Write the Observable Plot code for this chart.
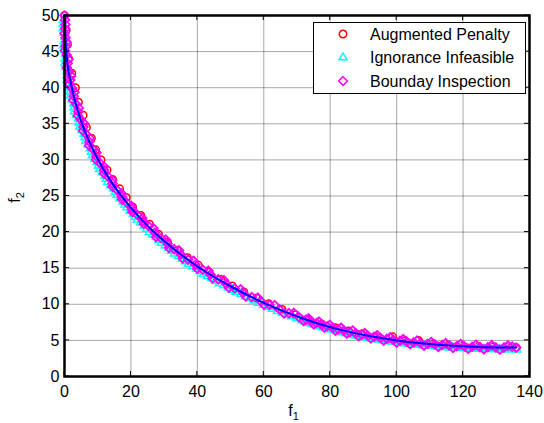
<!DOCTYPE html>
<html><head><meta charset="utf-8">
<script src="https://cdn.jsdelivr.net/npm/d3@7"></script>
<script src="https://cdn.jsdelivr.net/npm/@observablehq/plot@0.6"></script>
<style>html,body{margin:0;padding:0;background:#fff}#chart{width:544px;height:423px}</style>
</head><body><div id="chart"></div>
<script>
// Tick labels
const xTicks = [0, 20, 40, 60, 80, 100, 120, 140];
const yTicks = [0, 5, 10, 15, 20, 25, 30, 35, 40, 45, 50];

// Series names (legend)
const seriesNames = ["Augmented Penalty", "Ignorance Infeasible", "Bounday Inspection"];

// Augmented Penalty (red circles)
const apF1 = [0.0,0.5,0.9,1.3,2.2,3.3,4.2,5.6,6.6,8.1,
  9.4,11.0,12.8,14.5,16.6,18.6,20.5,23.0,25.6,28.3,
  31.0,34.0,37.0,40.3,43.5,47.0,50.5,54.0,57.8,61.5,
  65.5,69.5,73.5,77.5,81.5,85.5,89.5,93.5,98.8,102.5,
  106.6,111.0,115.5,120.0,124.5,129.0,133.0,136.0];
const apF2 = [50.0,48.0,46.0,44.0,42.0,40.0,38.0,36.2,34.5,33.0,
  31.4,30.0,28.6,27.3,26.0,24.8,23.5,22.3,21.1,19.7,
  18.6,17.5,16.45,15.4,14.45,13.45,12.55,11.72,10.85,10.07,
  9.3,8.55,7.86,7.26,6.75,6.3,5.89,5.54,5.5,4.95,
  5.0,4.5,4.35,4.22,4.15,4.08,4.05,4.0];

// Ignorance Infeasible (cyan triangles)
const iiF1 = [-0.3,-0.4,0.1,-0.3,0.3,0.1,0.8,0.8,1.6,1.8,
  2.8,3.0,4.2,4.6,5.9,6.4,7.8,8.4,9.9,10.6,
  12.2,13.0,14.8,15.8,17.6,18.8,20.7,21.9,24.0,25.5,
  27.6,29.2,31.4,33.1,35.5,37.3,39.8,41.8,44.3,46.6,
  49.3,51.7,54.5,57.0,59.9,62.6,65.6,68.4,71.5,73.1,
  74.6,76.2,77.8,79.5,81.2,82.9,84.6,86.4,88.2,90.0,
  91.9,93.8,95.7,97.7,99.7,101.7,103.8,105.9,108.0,110.2,
  112.3,114.5,116.8,119.1,121.4,123.7,126.1,128.5,130.9,133.4,
  136.2,
  -0.35,-0.15,-0.1,0.0,0.2,0.45,0.8,1.2,1.7,2.3,
  2.9,3.6,4.4,5.25,6.15,7.1,8.1,9.15,10.25,11.4,
  12.6,13.9,15.3,16.7,18.2,19.75,21.3,22.95,24.75,26.55,
  28.4,30.3,32.25,34.3,36.4,38.55,40.8,43.05,45.45,47.95,
  50.5,53.1,55.75,58.45,61.25,64.1,67.0,69.95,72.3,73.85,
  75.4,77.0,78.65,80.35,82.05,83.75,85.5,87.3,89.1,90.95,
  92.85,94.75,96.7,98.7,100.7,102.75,104.85,106.95,109.1,111.25,
  113.4,115.65,117.95,120.25,122.55,124.9,127.3,129.7,132.15,134.8];
const iiF2 = [49.40,48.20,47.00,45.80,44.60,43.40,42.30,41.10,40.00,38.90,
  37.80,36.70,35.70,34.60,33.60,32.60,31.60,30.60,29.70,28.70,
  27.80,26.90,26.00,25.10,24.20,23.40,22.50,21.70,20.90,20.00,
  19.30,18.50,17.80,17.00,16.30,15.60,14.90,14.20,13.60,12.90,
  12.30,11.70,11.10,10.50,9.90,9.35,8.75,8.30,7.75,7.50,
  7.25,7.05,6.80,6.60,6.40,6.20,6.00,5.82,5.64,5.47,
  5.31,5.16,5.02,4.88,4.75,4.63,4.52,4.41,4.31,4.22,
  4.14,4.07,4.00,3.94,3.89,3.85,3.81,3.79,3.77,3.76,
  3.70,
  48.80,47.60,46.40,45.20,44.00,42.85,41.70,40.55,39.45,38.35,
  37.25,36.20,35.15,34.10,33.10,32.10,31.10,30.15,29.20,28.25,
  27.35,26.45,25.55,24.65,23.80,22.95,22.10,21.30,20.45,19.65,
  18.90,18.15,17.40,16.65,15.95,15.25,14.55,13.90,13.25,12.60,
  12.00,11.40,10.80,10.20,9.63,9.05,8.53,8.03,7.63,7.38,
  7.15,6.93,6.70,6.50,6.30,6.10,5.91,5.73,5.56,5.39,
  5.24,5.09,4.95,4.82,4.69,4.58,4.47,4.36,4.27,4.18,
  4.11,4.04,3.97,3.92,3.87,3.83,3.80,3.78,3.77,3.73];

// Bounday Inspection (magenta diamonds)
const biF1 = [0.00,0.30,0.00,0.60,0.10,1.20,0.70,2.00,1.50,3.00,
  2.60,4.30,4.00,5.80,5.60,7.60,7.40,9.60,9.50,11.90,
  11.90,14.40,14.50,17.10,17.40,20.10,20.50,23.40,23.90,26.80,
  27.60,30.50,31.50,34.50,35.60,38.80,40.00,43.30,44.60,48.00,
  49.50,53.00,54.60,58.20,60.10,63.28,66.13,69.03,72.00,73.52,
  75.06,76.64,78.25,79.89,81.56,83.27,85.00,86.77,88.56,90.39,
  92.25,94.14,96.06,98.02,100.00,102.02,104.06,106.14,108.25,110.39,
  112.56,114.77,117.00,119.27,121.56,123.89,126.25,128.64,131.06,133.52,
  136.00,
  0.15,0.15,0.30,0.35,0.65,0.95,1.35,1.75,2.25,2.80,
  3.45,4.15,4.90,5.70,6.60,7.50,8.50,9.55,10.70,11.90,
  13.15,14.45,15.80,17.25,18.75,20.30,21.95,23.65,25.35,27.20,
  29.05,31.00,33.00,35.05,37.20,39.40,41.65,43.95,46.30,48.75,
  51.25,53.80,56.40,59.15,61.69,64.70,67.58,70.52,72.76,74.29,
  75.85,77.45,79.07,80.73,82.42,84.14,85.89,87.67,89.48,91.32,
  93.20,95.10,97.04,99.01,101.01,103.04,105.10,107.20,109.32,111.48,
  113.67,115.89,118.14,120.42,122.73,125.07,127.45,129.85,132.29,134.76];
const biF2 = [50.00,48.76,47.53,46.32,45.13,43.95,42.78,41.63,40.50,39.38,
  38.28,37.20,36.13,35.07,34.03,33.01,32.00,31.01,30.03,29.07,
  28.13,27.20,26.28,25.38,24.50,23.63,22.78,21.95,21.13,20.52,
  19.33,18.96,17.80,17.46,16.33,16.02,14.93,14.65,13.58,13.33,
  12.30,12.08,11.08,10.90,9.93,9.87,8.73,8.81,7.70,8.05,
  7.22,7.59,6.76,7.15,6.34,6.74,5.95,6.37,5.59,6.02,
  5.26,5.71,4.97,5.43,4.70,5.18,4.47,4.96,4.26,4.77,
  4.09,4.62,3.95,4.49,3.84,4.40,3.76,4.34,3.72,4.30,
  4.00,
  49.38,48.15,46.93,45.73,44.54,43.37,42.21,41.07,39.94,38.83,
  37.74,36.67,35.60,34.55,33.52,32.51,31.51,30.52,29.55,28.60,
  27.67,26.74,25.83,24.94,24.07,23.21,22.37,21.54,20.83,19.93,
  19.15,18.38,17.63,16.90,16.18,15.48,14.79,14.12,13.46,12.82,
  12.19,11.58,10.99,10.42,9.90,9.30,8.77,8.26,7.88,7.64,
  7.41,7.18,6.96,6.75,6.54,6.35,6.16,5.98,5.81,5.64,
  5.49,5.34,5.20,5.07,4.94,4.83,4.72,4.61,4.52,4.43,
  4.36,4.29,4.22,4.17,4.12,4.08,4.05,4.03,4.01,4.15];

// True Pareto front (blue line)
const pfF1 = [0, 0.5, 2, 4.5, 8, 12.5, 18, 24.5, 32, 40.5, 50, 60.5, 72, 78.25, 85, 92.25, 100, 108.25, 117, 126.25, 136];
const pfF2 = [50, 45.1, 40.5, 36.1, 32, 28.1, 24.5, 21.1, 18, 15.1, 12.5, 10.1, 8, 7.06, 6.25, 5.56, 5, 4.56, 4.25, 4.06, 4];

const rows = (a, b) => a.map((v, i) => ({f1: v, f2: b[i]}));
const ap = rows(apF1, apF2), ii = rows(iiF1, iiF2), bi = rows(biF1, biF2), pf = rows(pfF1, pfF2);

const font = "'Liberation Sans', Arial, Helvetica, sans-serif";
const styles = [
  {color: "#ff0000", symbol: "circle", r: 3.7, sw: 1.5},
  {color: "#00ffff", symbol: "triangle2", r: 3.8, sw: 1.5},
  {color: "#ff00ff", symbol: "diamond2", r: 3.9, sw: 1.8}
];

const plot = Plot.plot({
  width: 544, height: 423,
  marginLeft: 64, marginRight: 15, marginTop: 15, marginBottom: 47,
  style: {fontFamily: font, fontSize: "16px", background: "#fff", color: "#000", overflow: "visible"},
  x: {domain: [0, 140]},
  y: {domain: [0, 50]},
  marks: [
    Plot.gridX({ticks: xTicks, stroke: "#000", strokeOpacity: 0.35, strokeWidth: 1}),
    Plot.gridY({ticks: yTicks, stroke: "#000", strokeOpacity: 0.35, strokeWidth: 1}),
    Plot.axisX({ticks: xTicks, tickSize: 0, tickPadding: 9, label: null, fontSize: 16}),
    Plot.axisY({ticks: yTicks, tickSize: 0, tickPadding: 5, label: null, fontSize: 16}),
    ...[ap, ii, bi].map((data, i) => Plot.dot(data, {x: "f1", y: "f2", symbol: styles[i].symbol, r: styles[i].r, stroke: styles[i].color, strokeWidth: styles[i].sw, fill: "none"})),
    Plot.line(pf, {x: "f1", y: "f2", stroke: "#0000ff", strokeWidth: 2, curve: "monotone-x"}),
    Plot.frame({stroke: "#000", strokeWidth: 2.5})
  ]
});

const svg = d3.select(plot);
const sx = plot.scale("x"), sy = plot.scale("y");
const [xa, xb] = sx.range, [yBottom, yTop] = sy.range;

// inward ticks on all four sides (MATLAB style)
const tg = svg.append("g").attr("stroke", "#000").attr("stroke-width", 1);
xTicks.forEach(t => {
  const x = sx.apply(t);
  tg.append("line").attr("x1", x).attr("x2", x).attr("y1", yBottom).attr("y2", yBottom - 5);
  tg.append("line").attr("x1", x).attr("x2", x).attr("y1", yTop).attr("y2", yTop + 5);
});
yTicks.forEach(t => {
  const y = sy.apply(t);
  tg.append("line").attr("y1", y).attr("y2", y).attr("x1", xa).attr("x2", xa + 5);
  tg.append("line").attr("y1", y).attr("y2", y).attr("x1", xb).attr("x2", xb - 5);
});

// axis labels
const xl = svg.append("text").attr("x", (xa + xb) / 2 - 3).attr("y", 416)
  .attr("text-anchor", "middle").attr("font-family", font).attr("font-size", 16).attr("fill", "#000");
xl.append("tspan").text("f");
xl.append("tspan").attr("dy", 4).attr("font-size", 11).text("1");

const yl = svg.append("text").attr("transform", `translate(20,${(yBottom + yTop) / 2 + 2}) rotate(-90)`)
  .attr("text-anchor", "middle").attr("font-family", font).attr("font-size", 16).attr("fill", "#000");
yl.append("tspan").text("f");
yl.append("tspan").attr("dy", 4).attr("font-size", 11).text("2");

// legend
const lg = svg.append("g");
lg.append("rect").attr("x", 313.5).attr("y", 22.5).attr("width", 212).attr("height", 71)
  .attr("fill", "#fff").attr("stroke", "#000").attr("stroke-width", 1);
const symMap = {circle: d3.symbolCircle, triangle2: d3.symbolTriangle2, diamond2: d3.symbolDiamond2};
seriesNames.forEach((name, i) => {
  const cy = 34 + i * 23.5;
  const s = styles[i];
  lg.append("path").attr("transform", `translate(343,${cy})`)
    .attr("d", d3.symbol(symMap[s.symbol], Math.PI * s.r * s.r)())
    .attr("fill", "none").attr("stroke", s.color).attr("stroke-width", 1.5);
  lg.append("text").attr("x", 370).attr("y", cy).attr("dy", "0.35em").attr("text-anchor", "start")
    .attr("font-family", font).attr("font-size", 16).attr("fill", "#000").text(name);
});

document.getElementById("chart").appendChild(plot);
</script>
</body></html>
